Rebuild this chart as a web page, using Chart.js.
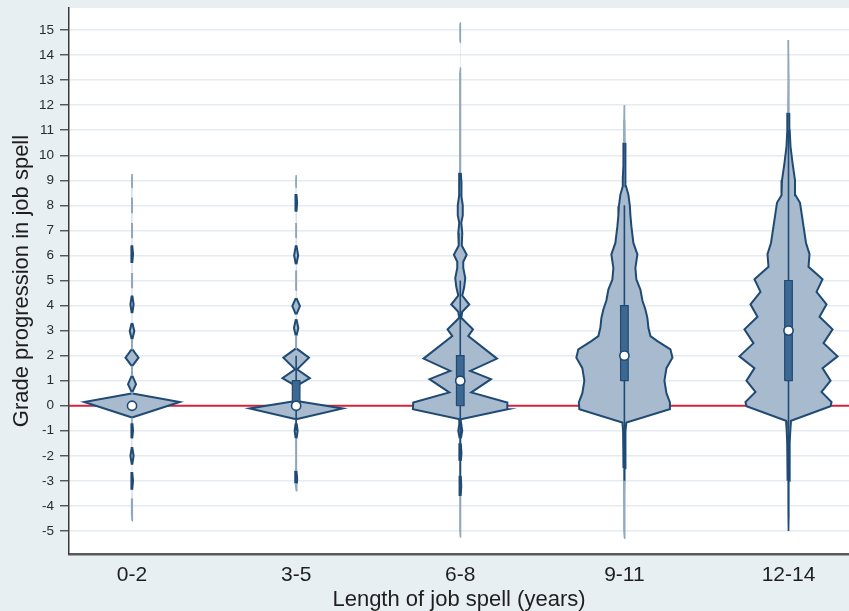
<!DOCTYPE html>
<html>
<head>
<meta charset="utf-8">
<script src="https://cdn.jsdelivr.net/npm/chart.js@4.4.1/dist/chart.umd.min.js"></script>
<style>
  html, body { margin: 0; padding: 0; background: #e8eff3; }
  #wrap { width: 849px; height: 611px; }
</style>
</head>
<body>
<div id="wrap"><canvas id="chart" width="849" height="611"></canvas></div>
<script>
// categories (length of job spell) and y ticks
const categories = ['0-2', '3-5', '6-8', '9-11', '12-14'];
const yTicks = [-5, -4, -3, -2, -1, 0, 1, 2, 3, 4, 5, 6, 7, 8, 9, 10, 11, 12, 13, 14, 15];

// box plot summary per category
const medians = [0, 0, 1, 2, 3];
const q1 = [0, 0, 0, 1, 1];
const q3 = [0, 1, 2, 4, 5];
const whiskerLo = [0, -1, -3, -3, -5];
const whiskerHi = [0, 2, 5, 8, 11];

// density profiles (grade value, estimated density)
const grid1 = [-4.6, -4.3, -4.0, -3.7, -3.35, -3.0, -2.65, -2.35, -2.0, -1.65, -1.3, -1.0, -0.7, -0.47, 0.15, 0.49, 0.55, 0.86, 1.19, 1.59, 1.92, 2.25, 2.65, 2.98, 3.3, 3.7, 4.05, 4.4, 4.7, 5.0, 5.3, 5.7, 6.05, 6.4, 6.7, 7.0, 7.3, 7.7, 8.0, 8.3, 8.7, 9.0, 9.25];
const dens1 = [0, 0.5, 0.6, 0.2, 0.2, 1.0, 0.2, 0.2, 1.6, 0.2, 0.2, 1.0, 0.4, 0, 47.7, 0.5, 0.5, 4, 0.4, 0.4, 6.5, 0.4, 0.3, 2.3, 0.3, 0.3, 1.6, 0.3, 0.2, 0.7, 0.2, 0.2, 1.0, 0.2, 0.2, 0.6, 0.2, 0.2, 0.6, 0.2, 0.2, 0.5, 0];

const grid2 = [-3.4, -3.1, -2.9, -2.6, -2.2, -1.8, -1.3, -1.0, -0.7, -0.54, -0.11, 0.19, 0.5, 0.79, 1.1, 1.45, 1.92, 2.28, 2.6, 2.8, 3.1, 3.45, 3.65, 3.98, 4.3, 4.6, 5.0, 5.4, 5.65, 6.0, 6.4, 6.7, 7.0, 7.3, 7.75, 8.1, 8.45, 8.7, 9.0, 9.2];
const dens2 = [0, 0.8, 1.0, 0.3, 0.4, 0.4, 0.4, 1.5, 0.5, 0, 46.5, 0.5, 0.5, 0.5, 13.7, 1.0, 12.8, 0.5, 0.4, 0.4, 2.2, 0.3, 0.3, 3.8, 0.3, 0.2, 0.6, 0.2, 0.3, 2.0, 0.3, 0.2, 0.5, 0.2, 0.3, 1.0, 0.3, 0.2, 0.4, 0];

const grid3 = [-5.25, -5.0, -4.6, -4.3, -4.0, -3.6, -3.2, -2.8, -2.5, -2.2, -1.9, -1.5, -1.3, -1.0, -0.75, -0.54, -0.14, 0.13, 0.53, 1.06, 1.39, 1.88, 2.78, 3.05, 3.51, 3.75, 4.04, 4.4, 4.75, 5.1, 5.5, 5.75, 6.03, 6.4, 6.9, 7.3, 7.6, 8.0, 8.4, 8.9, 9.3, 10.0, 11.0, 12.0, 13.3, 13.5, 14.5, 14.6, 15.2, 15.3];
const dens3 = [0, 0.4, 0.3, 0.4, 0.6, 0.4, 1.0, 0.5, 0.5, 0.6, 1.2, 0.5, 0.6, 2.0, 1.0, 0.4, 47.3, 47.0, 11.0, 30.7, 10.0, 36.7, 8.0, 12.7, 1.0, 2.0, 9.0, 2.0, 4.0, 5.0, 3.0, 3.0, 6.4, 1.5, 2.0, 1.0, 2.5, 2.5, 1.0, 1.2, 0.5, 0.6, 0.5, 0.5, 0.4, 0, 0, 0.4, 0.4, 0];

const grid4 = [-5.3, -5.0, -4.5, -4.0, -3.5, -3.0, -2.5, -2.0, -1.5, -1.0, -0.67, -0.14, 0.13, 0.5, 1.0, 1.5, 1.92, 2.25, 2.58, 2.78, 3.11, 3.5, 3.84, 4.2, 4.64, 5.04, 5.5, 6.04, 6.5, 7.16, 7.6, 7.96, 8.43, 8.76, 9.16, 9.6, 10.2, 10.5, 11.4, 12.0, 12.5];
const dens4 = [0, 0.4, 0.5, 0.5, 0.6, 0.7, 0.8, 0.9, 1.0, 1.3, 2.0, 45.0, 45.5, 42.0, 40.0, 42.0, 48.0, 46.0, 33.0, 26.0, 24.0, 23.0, 21.0, 18.0, 16.0, 12.0, 11.0, 13.0, 9.0, 7.0, 6.0, 5.5, 4.0, 1.6, 1.5, 1.0, 0.9, 0.7, 0.5, 0.3, 0];

const grid5 = [-5.0, -4.5, -4.0, -3.0, -2.0, -1.5, -1.0, -0.6, -0.02, 0.15, 0.55, 1.0, 1.5, 1.97, 2.5, 3.05, 3.55, 4.05, 4.55, 5.05, 5.55, 6.05, 6.5, 7.16, 7.7, 8.1, 8.4, 9.0, 9.7, 10.35, 11.0, 11.7, 13.0, 14.6];
const dens5 = [0, 0.5, 0.7, 0.8, 1.0, 1.3, 1.8, 2.5, 42.0, 43.0, 33.0, 42.0, 34.0, 49.0, 35.0, 44.0, 31.0, 38.0, 28.0, 34.0, 20.0, 21.0, 17.5, 15.0, 13.0, 11.5, 7.0, 6.5, 4.0, 2.0, 1.2, 0.8, 0.5, 0];

const grids = [grid1, grid2, grid3, grid4, grid5];
const densities = [dens1, dens2, dens3, dens4, dens5];

// axis ranges
const xMin = 0.616, xMax = 5.3686;
const yMin = -5.92, yMax = 15.88;

// styling
const FONT = "'Liberation Sans', Arial, Helvetica, sans-serif";
const violinScale = 0.0061;   // x units per density unit
const boxHalf = 3.8 * violinScale;
const navy = '#1f4a74';
const violinFill = '#a8bacd';
const thinColor = '#8fa6bd';

function violinPoints(center, grid, dens) {
    const right = grid.map((y, i) => ({ x: center + dens[i] * violinScale, y: y, w: dens[i] }));
    const left = grid.map((y, i) => ({ x: center - dens[i] * violinScale, y: y, w: dens[i] })).reverse();
    return right.concat(left);
}

const datasets = [];

// red reference line at zero
datasets.push({
    data: [{ x: xMin, y: 0 }, { x: xMax, y: 0 }],
    showLine: true, borderColor: '#d0263f', borderWidth: 2,
    pointRadius: 0, fill: false, order: 6
});

categories.forEach((cat, i) => {
    const c = i + 1;
    const pts = violinPoints(c, grids[i], densities[i]);

    // violin body fill
    datasets.push({
        data: pts, showLine: true, borderWidth: 0,
        backgroundColor: violinFill, fill: 'shape',
        pointRadius: 0, order: 5
    });

    // violin outline, thin tails drawn lighter
    const segW = ctx => Math.max(pts[ctx.p0DataIndex].w, pts[ctx.p1DataIndex].w);
    datasets.push({
        data: pts, showLine: true, borderColor: navy, borderWidth: 2,
        borderJoinStyle: 'miter', fill: false, pointRadius: 0, order: 4,
        segment: {
            borderColor: ctx => {
                const m = segW(ctx);
                if (m < 0.35) return 'rgba(0,0,0,0)';
                if (m < 0.9) return thinColor;
                return undefined;
            },
            borderWidth: ctx => (segW(ctx) < 0.9 ? 1.2 : undefined)
        }
    });

    // whisker (adjacent values)
    datasets.push({
        data: [{ x: c, y: whiskerLo[i] }, { x: c, y: whiskerHi[i] }],
        showLine: true, borderColor: navy, borderWidth: 1.6,
        pointRadius: 0, fill: false, order: 3
    });

    // interquartile box
    datasets.push({
        data: [
            { x: c - boxHalf, y: q1[i] }, { x: c + boxHalf, y: q1[i] },
            { x: c + boxHalf, y: q3[i] }, { x: c - boxHalf, y: q3[i] },
            { x: c - boxHalf, y: q1[i] }
        ],
        showLine: true, borderColor: navy, borderWidth: 1.2,
        backgroundColor: '#3d6891', fill: 'shape', pointRadius: 0, order: 2
    });
});

// medians
datasets.push({
    data: medians.map((m, i) => ({ x: i + 1, y: m })),
    showLine: false, pointRadius: 4.6, pointBackgroundColor: '#ffffff',
    pointBorderColor: navy, pointBorderWidth: 1.6, fill: false, order: 0
});

const plotBackground = {
    id: 'plotBackground',
    beforeDraw(chart) {
        const { ctx, chartArea: a } = chart;
        ctx.save();
        ctx.fillStyle = '#ffffff';
        ctx.fillRect(a.left, a.top, a.right - a.left, a.bottom - a.top);
        ctx.restore();
    }
};

new Chart(document.getElementById('chart'), {
    type: 'scatter',
    data: { datasets: datasets },
    plugins: [plotBackground],
    options: {
        responsive: false,
        animation: false,
        events: [],
        devicePixelRatio: 1,
        layout: { autoPadding: false, padding: { top: 8, right: 0, bottom: 0, left: 0 } },
        elements: { line: { tension: 0 } },
        plugins: {
            legend: { display: false },
            tooltip: { enabled: false }
        },
        scales: {
            x: {
                type: 'linear', min: xMin, max: xMax,
                afterBuildTicks: s => { s.ticks = categories.map((_, i) => ({ value: i + 1 })); },
                afterFit: s => {
                    s.height = 57;
                    s.paddingLeft = 0; s.paddingRight = 0;
                },
                ticks: {
                    callback: (v, idx) => categories[idx],
                    font: { size: 21, family: FONT }, color: '#1e1e1e',
                    padding: 9, autoSkip: false, maxRotation: 0
                },
                grid: { display: false, drawTicks: false },
                border: { display: true, color: '#5a5a5a', width: 2.5 },
                title: {
                    display: true, text: 'Length of job spell (years)', color: '#1e1e1e',
                    font: { size: 22, family: FONT, lineHeight: 1 },
                    padding: { top: 0, bottom: 0 }
                }
            },
            y: {
                type: 'linear', min: yMin, max: yMax,
                afterBuildTicks: s => { s.ticks = yTicks.map(v => ({ value: v })); },
                afterFit: s => {
                    s.width = 69;
                    s.paddingTop = 0; s.paddingBottom = 0;
                },
                ticks: {
                    font: { size: 13.5, family: FONT }, color: '#2b2b2b',
                    padding: 6, autoSkip: false
                },
                grid: {
                    color: '#e4ecf2', lineWidth: 1.5,
                    tickLength: 9, tickColor: '#444444', tickWidth: 1.3
                },
                border: { color: '#3a3a3a', width: 1.5 },
                title: {
                    display: true, text: 'Grade progression in job spell', color: '#1e1e1e',
                    font: { size: 22, family: FONT, lineHeight: 1 },
                    padding: { top: 10.5, bottom: 0 }
                }
            }
        }
    }
});
</script>
</body>
</html>
